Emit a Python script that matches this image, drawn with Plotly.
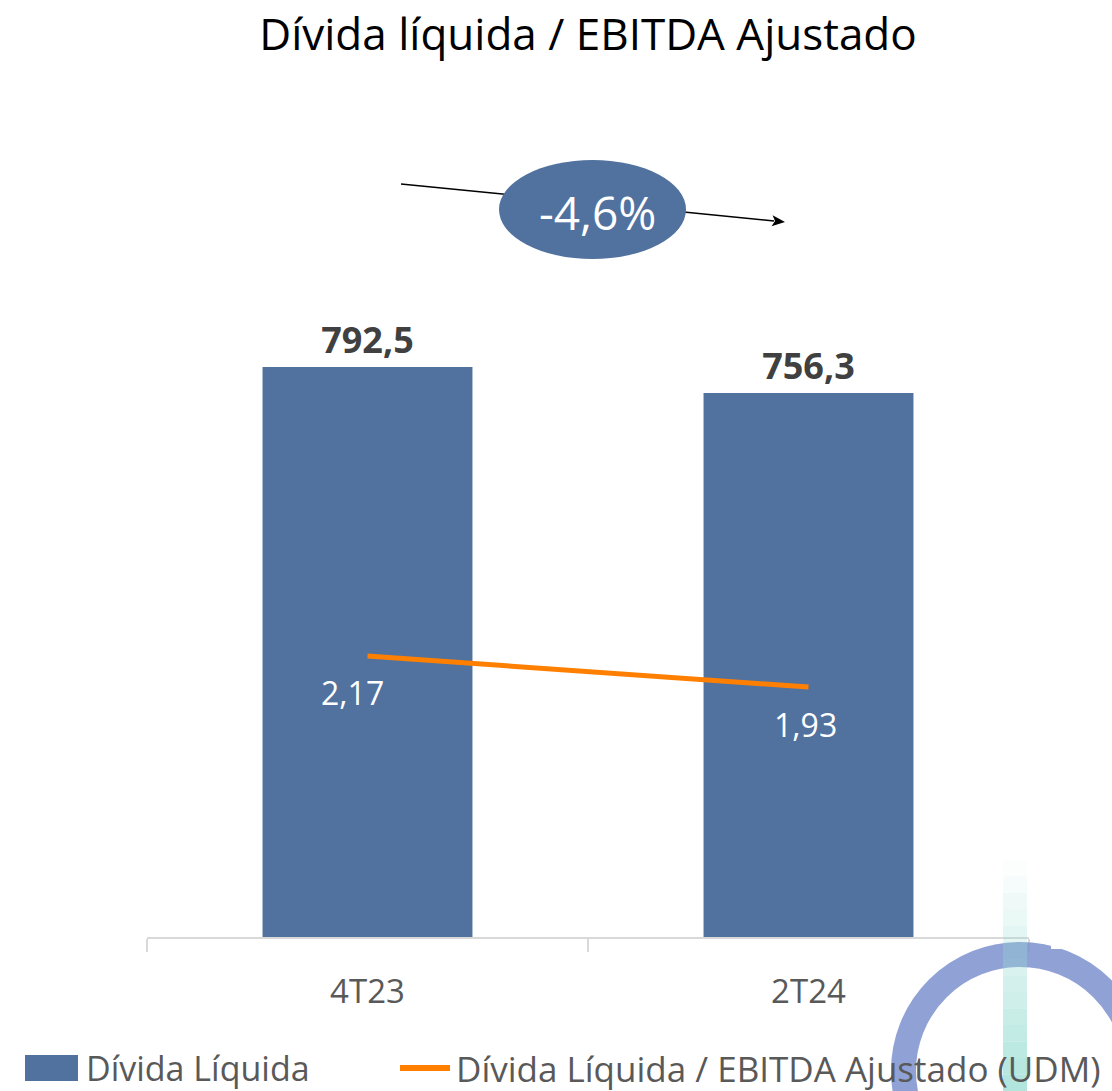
import math
import plotly.graph_objects as go

# ---------------- data ----------------
categories = ["4T23", "2T24"]
divida_liquida = [792.5, 756.3]
divida_ebitda = [2.17, 1.93]
bar_labels = ["792,5", "756,3"]
line_labels = ["2,17", "1,93"]
variation_label = "-4,6%"
title_text = "Dívida líquida / EBITDA Ajustado"
legend_names = ["Dívida Líquida", "Dívida Líquida / EBITDA Ajustado (UDM)"]

# ---------------- layout helpers ----------------
W, H = 1112, 1091
L, R, T, B = 147, 1029, 80, 937
pw, ph = R - L, B - T


def px(x):
    return (x - L) / pw


def py(y):
    return (B - y) / ph


BAR = "#51719F"
ORANGE = "#FF8000"
FONT = "Open Sans"
GREY = "#595959"

fig = go.Figure()
fig.add_trace(go.Bar(
    x=categories, y=divida_liquida, width=0.476, marker_color=BAR,
    marker_line_width=0,
    text=bar_labels, textposition="outside",
    textfont=dict(family=FONT, size=36, color="#404040", weight="bold"),
    cliponaxis=False, name=legend_names[0], showlegend=False,
))
fig.add_trace(go.Scatter(
    x=categories, y=divida_ebitda, yaxis="y2", mode="lines",
    line=dict(color=ORANGE, width=5), name=legend_names[1], showlegend=False,
))

annotations = []
xshifts = [-15, -3]
for c, v, t, xs in zip(categories, divida_ebitda, line_labels, xshifts):
    annotations.append(dict(
        x=c, y=v, xref="x", yref="y2", text=t, showarrow=False,
        xanchor="center", yanchor="middle",
        xshift=xs, yshift=-37, font=dict(family=FONT, size=32, color="white"),
    ))

annotations.append(dict(
    x=px(597), y=py(212), xref="paper", yref="paper", text=variation_label,
    showarrow=False, xanchor="center", yanchor="middle",
    font=dict(family=FONT, size=46, color="white"),
))

# legend texts
annotations.append(dict(
    x=px(84), y=py(1068), xref="paper", yref="paper", text=legend_names[0],
    showarrow=False, xanchor="left", yanchor="middle",
    font=dict(family=FONT, size=34, color=GREY),
))
annotations.append(dict(
    x=px(454), y=py(1068), xref="paper", yref="paper", text=legend_names[1],
    showarrow=False, xanchor="left", yanchor="middle",
    font=dict(family=FONT, size=35, color=GREY),
))

shapes = []
# decorative ring
cx, cy, rr = 1020, 1071, 116.5
shapes.append(dict(
    type="circle", xref="paper", yref="paper", layer="above",
    x0=px(cx - rr), x1=px(cx + rr), y0=py(cy + rr), y1=py(cy - rr),
    line=dict(color="rgba(125,145,206,0.85)", width=25), fillcolor="rgba(0,0,0,0)",
))
# white notch at ring top-right
shapes.append(dict(
    type="rect", xref="paper", yref="paper", layer="above",
    x0=px(1051), x1=px(1115), y0=py(949), y1=py(939),
    line=dict(width=0), fillcolor="white",
))
# teal gradient bar
n = 14
y_top, y_bot = 860, 1091
for i in range(n):
    a = 0.04 + 0.7 * (i / (n - 1))
    shapes.append(dict(
        type="rect", xref="paper", yref="paper", layer="above",
        x0=px(1003), x1=px(1027),
        y0=py(y_top + (y_bot - y_top) * (i + 1) / n),
        y1=py(y_top + (y_bot - y_top) * i / n),
        line=dict(width=0), fillcolor=f"rgba(150,220,210,{a:.3f})",
    ))

# trend arrow (drawn below the ellipse)
tx, ty, hx, hy = 401, 184, 785, 222
d = math.hypot(hx - tx, hy - ty)
ux, uy = (hx - tx) / d, (hy - ty) / d
nx, ny = -uy, ux
hl, hw = 13, 5.5
bx, by = hx - hl * ux, hy - hl * uy
shapes.append(dict(
    type="line", xref="paper", yref="paper", layer="above",
    x0=px(tx), y0=py(ty), x1=px(bx + 2 * ux), y1=py(by + 2 * uy),
    line=dict(color="black", width=1.5),
))
pts = [(hx, hy), (bx + hw * nx, by + hw * ny), (bx + 3 * ux, by + 3 * uy),
       (bx - hw * nx, by - hw * ny)]
path = "M " + " L ".join(f"{px(a):.5f},{py(b):.5f}" for a, b in pts) + " Z"
shapes.append(dict(
    type="path", xref="paper", yref="paper", layer="above", path=path,
    line=dict(width=0), fillcolor="black",
))
# ellipse
shapes.append(dict(
    type="circle", xref="paper", yref="paper", layer="above",
    x0=px(499), x1=px(686), y0=py(259), y1=py(160),
    line=dict(width=0), fillcolor=BAR,
))
# legend symbols
shapes.append(dict(
    type="rect", xref="paper", yref="paper", layer="above",
    x0=px(25), x1=px(78), y0=py(1081), y1=py(1055),
    line=dict(width=0), fillcolor=BAR,
))
shapes.append(dict(
    type="line", xref="paper", yref="paper", layer="above",
    x0=px(400), x1=px(450), y0=py(1068), y1=py(1068),
    line=dict(width=6, color=ORANGE),
))

fig.update_layout(
    width=W, height=H,
    margin=dict(l=L, r=W - R, t=T, b=H - B, pad=0),
    paper_bgcolor="white", plot_bgcolor="white",
    font=dict(family=FONT, color=GREY),
    title=dict(text=title_text, x=0.5, xref="paper", y=1 - 35 / H, yref="container",
               xanchor="center", yanchor="middle",
               font=dict(family=FONT, size=44, color="black")),
    xaxis=dict(type="category", range=[-0.5, 1.5], showline=True, linecolor="#D9D9D9",
               linewidth=2, ticks="outside", tickson="boundaries", ticklen=13,
               tickcolor="#D9D9D9", tickwidth=2, showgrid=False, zeroline=False,
               tickfont=dict(family=FONT, size=33, color=GREY), ticklabelstandoff=24),
    yaxis=dict(range=[0, 857 / 0.7193], visible=False, showgrid=False, zeroline=False),
    yaxis2=dict(range=[0, 857 / 129.5], overlaying="y", visible=False, showgrid=False,
                zeroline=False),
    showlegend=False,
    annotations=annotations,
    shapes=shapes,
)

fig.write_html("out.html", config={"displayModeBar": False},
               post_script="document.body.style.margin='0';")
